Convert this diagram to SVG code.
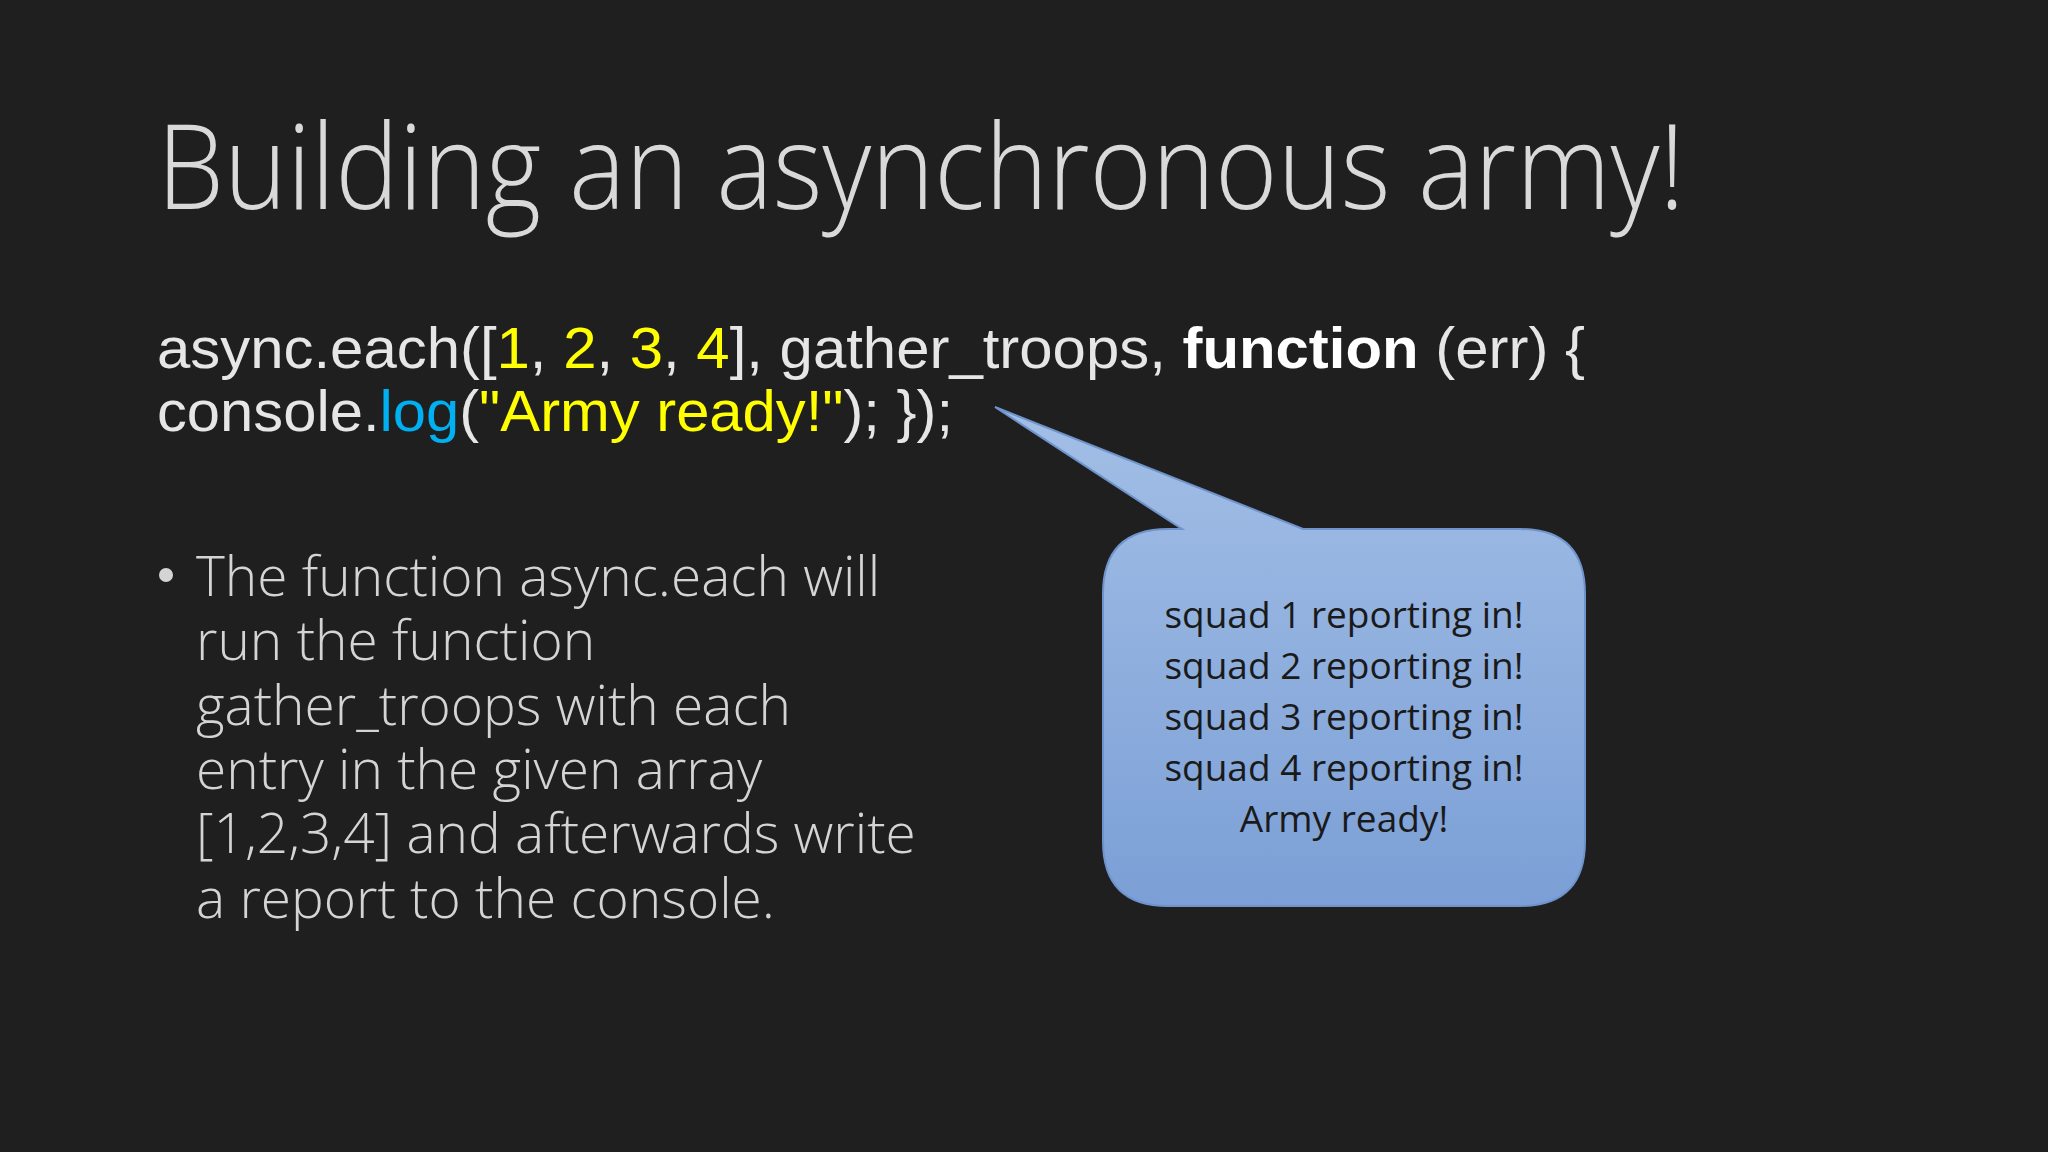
<svg xmlns="http://www.w3.org/2000/svg" width="2048" height="1152" viewBox="0 0 2048 1152">
<defs>
<linearGradient id="g" x1="0" y1="0" x2="0" y2="1"><stop offset="0" stop-color="#a3bfe6"/><stop offset="1" stop-color="#7b9fd6"/></linearGradient>
<style>
.code{font-family:"Liberation Sans",Arial,sans-serif;font-size:57px;fill:#e6e6e6}
.y{fill:#ffff00}.b{fill:#00b0f0}.w{fill:#ffffff;font-weight:bold}
.body{font-family:"Open Sans","Noto Sans",sans-serif;font-weight:300;font-size:55px;fill:#d4d4d4}
.co{font-family:"Open Sans","Noto Sans",sans-serif;font-size:37px;fill:#1a1a1a;text-anchor:middle}
</style>
</defs>
<rect width="2048" height="1152" fill="#1f1f20"/>
<g id="title"><text x="157" y="209" font-family="'Open Sans','Noto Sans',sans-serif" font-weight="300" font-size="118" fill="#d9d9d9" textLength="1528" lengthAdjust="spacingAndGlyphs">Building an asynchronous army!</text></g>
<g id="code">
<text class="code" x="157" y="368" textLength="1428" lengthAdjust="spacingAndGlyphs">async.each([<tspan class="y">1</tspan>, <tspan class="y">2</tspan>, <tspan class="y">3</tspan>, <tspan class="y">4</tspan>], gather_troops, <tspan class="w">function</tspan> (err) {</text>
<text class="code" x="157" y="431" textLength="796" lengthAdjust="spacingAndGlyphs">console.<tspan class="b">log</tspan>(<tspan class="y">"Army ready!"</tspan>); });</text>
</g>
<g id="bullets">
<circle cx="166" cy="575" r="7" fill="#d4d4d4"/>
<text class="body" x="196" y="596">The function async.each will</text>
<text class="body" x="196" y="660">run the function</text>
<text class="body" x="196" y="725">gather_troops with each</text>
<text class="body" x="196" y="789">entry in the given array</text>
<text class="body" x="196" y="853">[1,2,3,4] and afterwards write</text>
<text class="body" x="196" y="918">a report to the console.</text>
</g>
<g id="callout">
<path d="M1168,529 L1182,529 L995,407 L1303,529 L1520,529 Q1585,529 1585,594 L1585,841 Q1585,906 1520,906 L1168,906 Q1103,906 1103,841 L1103,594 Q1103,529 1168,529 Z" fill="url(#g)" stroke="#6f94cc" stroke-width="2"/>
<text class="co" x="1344" y="628">squad 1 reporting in!</text>
<text class="co" x="1344" y="679">squad 2 reporting in!</text>
<text class="co" x="1344" y="730">squad 3 reporting in!</text>
<text class="co" x="1344" y="781">squad 4 reporting in!</text>
<text class="co" x="1344" y="832">Army ready!</text>
</g>
<g id="connectors"/>
</svg>
